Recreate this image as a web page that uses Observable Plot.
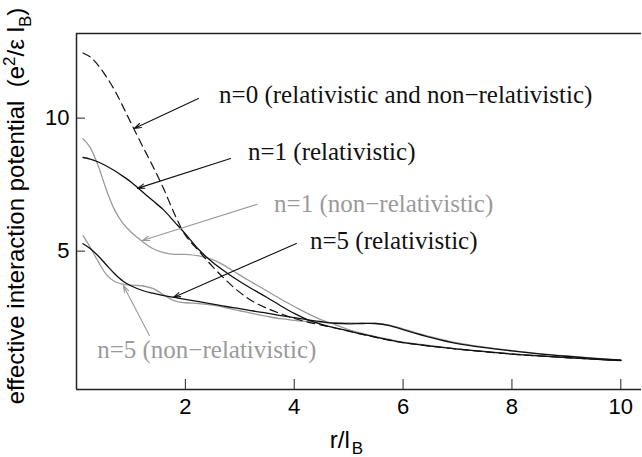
<!DOCTYPE html>
<html><head><meta charset="utf-8">
<script src="https://cdn.jsdelivr.net/npm/d3@7"></script>
<script src="https://cdn.jsdelivr.net/npm/@observablehq/plot@0.6"></script>
<style>body{margin:0;background:#fff}</style>
</head><body><div id="chart"></div>
<script>
// r / l_B sample positions (shared by all curves)
const r = [0.12,0.25,0.4,0.55,0.7,0.85,1.0,1.2,1.4,1.6,1.8,2.0,2.25,2.5,2.75,3.0,3.25,3.5,3.75,4.0,4.25,4.5,4.75,5.0,5.25,5.5,5.75,6.0,6.5,7.0,7.5,8.0,8.5,9.0,9.5,10];
// effective interaction potential values
const n0 = [12.45,12.3,11.98,11.55,11.05,10.45,9.82,9.0,8.2,7.35,6.4,5.6,5.0,4.42,3.9,3.45,3.1,2.85,2.65,2.47,2.33,2.22,2.11,1.99,1.87,1.76,1.65,1.56,1.43,1.32,1.22,1.13,1.06,1.0,0.94,0.89];
const n1Rel = [8.52,8.46,8.35,8.2,8.02,7.82,7.6,7.25,6.9,6.55,6.1,5.65,5.05,4.58,4.2,3.86,3.55,3.26,2.95,2.66,2.42,2.25,2.12,2.0,1.88,1.77,1.66,1.56,1.43,1.32,1.22,1.13,1.06,1.0,0.94,0.89];
const n1Non = [9.23,8.9,8.2,7.3,6.55,6.05,5.72,5.38,5.1,4.94,4.88,4.88,4.82,4.68,4.42,4.1,3.8,3.5,3.2,2.92,2.65,2.42,2.24,2.05,1.91,1.79,1.68,1.58,1.45,1.33,1.23,1.14,1.07,1.0,0.95,0.9];
const n5Rel = [5.28,5.1,4.82,4.48,4.15,3.88,3.7,3.53,3.42,3.33,3.26,3.19,3.1,3.01,2.92,2.84,2.75,2.67,2.58,2.5,2.42,2.35,2.29,2.27,2.28,2.28,2.2,2.05,1.76,1.52,1.37,1.25,1.14,1.05,0.97,0.9];
const n5Non = [5.58,5.15,4.6,4.12,3.86,3.76,3.72,3.7,3.6,3.36,3.13,3.06,3.03,2.97,2.87,2.76,2.65,2.55,2.46,2.4,2.35,2.32,2.3,2.3,2.29,2.28,2.22,2.08,1.79,1.55,1.39,1.26,1.15,1.06,0.98,0.91];

const xTicks = [2,4,6,8,10];
const yTicks = [5,10];
const xDomain = [0,10.38];
const yDomain = [-0.2,13.18];

// annotations
const labelText = ["n=0 (relativistic and non\u2212relativistic)","n=1 (relativistic)","n=1 (non\u2212relativistic)","n=5 (relativistic)","n=5 (non\u2212relativistic)"];
const labelX = [2.62,3.15,3.63,4.29,0.38];
const labelY = [10.85,8.71,6.79,5.4,1.27];
const labelGrey = [false,false,true,false,true];
const arrowX1 = [2.24,2.83,3.32,4.04,1.34];
const arrowY1 = [10.74,8.48,6.76,5.29,1.83];
const arrowX2 = [1.06,1.12,1.21,1.78,0.86];
const arrowY2 = [9.61,7.36,5.4,3.26,3.71];

const BLACK = "#111", GREY = "#9a9a9a";
const series = (vals) => r.map((x,i)=>({x, y: vals[i]}));
const annot = labelText.map((t,i)=>({text:t, x:labelX[i], y:labelY[i], x1:arrowX1[i], y1:arrowY1[i], x2:arrowX2[i], y2:arrowY2[i], c: labelGrey[i]?GREY:BLACK}));

const plot = Plot.plot({
  width: 642, height: 457,
  marginLeft: 76, marginRight: 1, marginTop: 33, marginBottom: 68,
  style: {fontFamily: "Liberation Sans", fontSize: "22px", background: "#fff"},
  x: {domain: xDomain},
  y: {domain: yDomain},
  marks: [
    Plot.ruleX([xDomain[0]], {stroke: "#222", strokeWidth: 1.5}),
    Plot.ruleY([yDomain[0]], {stroke: "#222", strokeWidth: 1.5}),
    Plot.ruleY([yDomain[1]], {stroke: "#222", strokeWidth: 1.5}),
    Plot.axisX(xTicks, {tickSize: -10, tickFormat: () => "", label: null, stroke: "#222"}),
    Plot.axisX(xTicks, {tickSize: 0, tickPadding: 9, label: null, fontSize: 22}),
    Plot.axisY(yTicks, {tickSize: -9, tickFormat: () => "", label: null, stroke: "#222"}),
    Plot.axisY(yTicks, {tickSize: 0, tickPadding: 7, label: null, fontSize: 22}),
    Plot.line(series(n1Non), {x:"x", y:"y", stroke: GREY, strokeWidth: 1.3, curve: "catmull-rom"}),
    Plot.line(series(n5Non), {x:"x", y:"y", stroke: GREY, strokeWidth: 1.3, curve: "catmull-rom"}),
    Plot.line(series(n0), {x:"x", y:"y", stroke: BLACK, strokeWidth: 1.2, strokeDasharray: "8,5", curve: "catmull-rom"}),
    Plot.line(series(n1Rel), {x:"x", y:"y", stroke: BLACK, strokeWidth: 1.3, curve: "catmull-rom"}),
    Plot.line(series(n5Rel), {x:"x", y:"y", stroke: BLACK, strokeWidth: 1.3, curve: "catmull-rom"}),
    Plot.arrow(annot, {x1:"x1", y1:"y1", x2:"x2", y2:"y2", stroke: d => d.c, strokeWidth: 1.1, headLength: 10, headAngle: 35}),
    Plot.text(annot, {x:"x", y:"y", text:"text", fill: d => d.c, textAnchor: "start", fontSize: 25, fontFamily: "Liberation Serif"})
  ]
});

const svg = d3.select(plot);
const xs = plot.scale("x"), ys = plot.scale("y");
const cx = (xs.range[0] + xs.range[1]) / 2;
const cy = (ys.range[0] + ys.range[1]) / 2;
// x axis title r/l_B
const xt = svg.append("text").attr("x", cx - 12).attr("y", 448)
  .attr("font-family", "Liberation Sans").attr("font-size", 24).attr("fill", "#000");
xt.append("tspan").text("r/l");
xt.append("tspan").attr("dy", 6).attr("font-size", 17).attr("dx", 2).text("B");
// y axis title
const yt = svg.append("text").attr("transform", `translate(24,${cy - 5}) rotate(-90)`)
  .attr("text-anchor", "middle").attr("font-family", "Liberation Sans").attr("font-size", 24).attr("fill", "#000")
  .attr("xml:space", "preserve");
yt.append("tspan").text("effective interaction potential  (e");
yt.append("tspan").attr("dy", -9).attr("font-size", 17).text("2");
yt.append("tspan").attr("dy", 9).text("/\u03b5 l");
yt.append("tspan").attr("dy", 7).attr("font-size", 17).text("B");
yt.append("tspan").attr("dy", -7).text(")");

document.getElementById("chart").appendChild(plot);
</script>
</body></html>
